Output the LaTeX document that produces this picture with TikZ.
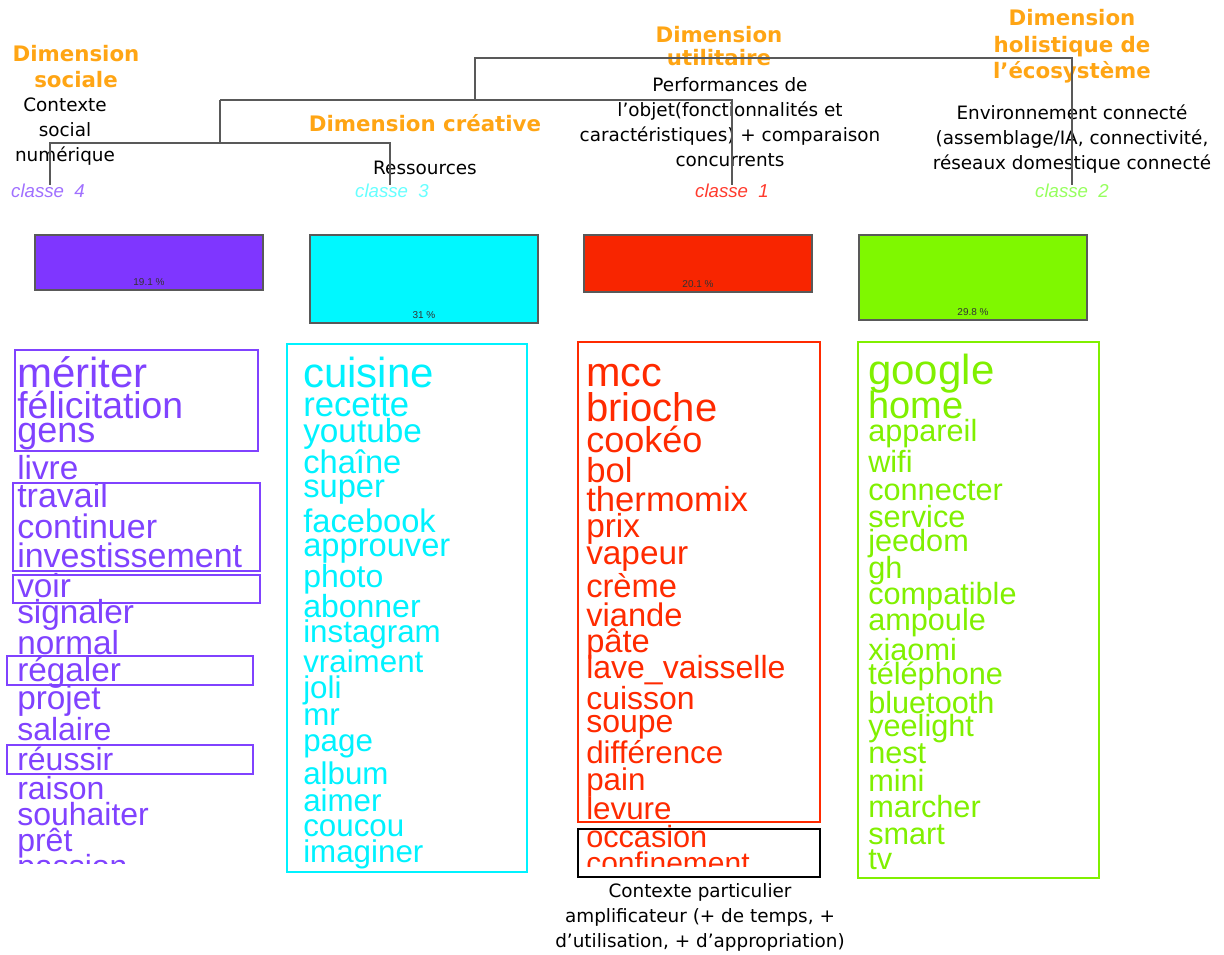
\documentclass[tikz,border=0pt]{standalone}
\usepackage{fontspec}
\setmainfont{Liberation Sans}
\newfontfamily\notefont{DejaVu Sans}
\definecolor{dimorange}{HTML}{FFA514}
\definecolor{wpurple}{HTML}{8042FF}
\definecolor{wcyan}{HTML}{00F2FF}
\definecolor{wred}{HTML}{FF2A00}
\definecolor{wgreen}{HTML}{80F000}
\definecolor{bpurple}{HTML}{7F36FF}
\definecolor{bcyan}{HTML}{00F8FF}
\definecolor{bred}{HTML}{F82500}
\definecolor{bgreen}{HTML}{7FF800}
\definecolor{cpurple}{HTML}{A070FF}
\definecolor{ccyan}{HTML}{66FFFF}
\definecolor{cred}{HTML}{FF3B2E}
\definecolor{cgreen}{HTML}{96FF5E}
\begin{document}
\begin{tikzpicture}[x=0.75pt,y=0.75pt,yscale=-1,xscale=1,
  dimtext/.style={text=dimorange,font=\notefont\bfseries\fontsize{16}{20}\selectfont,align=center,inner sep=0pt},
  ctxtext/.style={font=\notefont\fontsize{13.8}{18.75}\selectfont,align=center,inner sep=0pt},
  classlab/.style={font=\itshape\fontsize{14}{14}\selectfont,inner sep=0pt},
  dendro/.style={draw=black!65,line width=0.9pt},
  bar/.style={draw=black!65,line width=0.8pt},
  pct/.style={font=\fontsize{7.5}{7.5}\selectfont,text=black!80,inner sep=0pt},
  word/.style={anchor=mid west,inner sep=0pt},
  wordbox/.style={line width=1pt}]
\useasboundingbox (0,0) rectangle (1224,955);

%Text: dimensions
\node[dimtext] (dsoc) at (76,66.5) {Dimension\\sociale};
\node[dimtext] (dcre) at (425,123) {Dimension créative};
\node[dimtext,font=\notefont\bfseries\fontsize{16}{17.3}\selectfont] (duti) at (719,46.5) {Dimension\\utilitaire};
\node[dimtext] (dhol) at (1072,46.5) {Dimension\\holistique de\\l’écosystème};

%Text: contexts
\node[ctxtext] (tsoc) at (65,132) {Contexte\\social\\numérique};
\node[ctxtext] (tres) at (425,168) {Ressources};
\node[ctxtext] (tuti) at (730,122.5) {Performances de\\l’objet(fonctionnalités et\\caractéristiques) + comparaison\\concurrents};
\node[ctxtext] (thol) at (1072,139.5) {Environnement connecté\\(assemblage/IA, connectivité,\\réseaux domestique connecté};
\node[ctxtext] (tamp) at (700,917.5) {Contexte particulier\\amplificateur (+ de temps, +\\d’utilisation, + d’appropriation)};

%Text: classes
\node[classlab,text=cpurple] (k4) at (48,190.5) {classe\ \ 4};
\node[classlab,text=ccyan] (k3) at (392,190.5) {classe\ \ 3};
\node[classlab,text=cred] (k1) at (732,190.5) {classe\ \ 1};
\node[classlab,text=cgreen] (k2) at (1072,190.5) {classe\ \ 2};

%Dendrogram
\coordinate (c4) at (50,185);
\coordinate (c3) at (390,185);
\coordinate (c1) at (732,185);
\coordinate (c2) at (1072,185);
\draw[dendro] (c4) -- (50,143) -- (390,143) -- (c3);
\draw[dendro] (220,143) -- (220,100);
\draw[dendro] (220,100) -- (732,100) -- (c1);
\draw[dendro] (475,100) -- (475,58) -- (1072,58) -- (c2);

%Shape: Rectangle bars
\draw[bar,fill=bpurple] (35,235) rectangle (263,290);
\node[pct] (p4) at (149,282) {19.1 \%};
\draw[bar,fill=bcyan] (310,235) rectangle (538,323);
\node[pct] (p3) at (424,315.5) {31 \%};
\draw[bar,fill=bred] (584,235) rectangle (812,292);
\node[pct] (p1) at (698,284) {20.1 \%};
\draw[bar,fill=bgreen] (859,235) rectangle (1087,320);
\node[pct] (p2) at (973,312) {29.8 \%};

%Words classe 4
\begin{scope}
\clip (0,330) rectangle (280,863);
\foreach \w/\y/\s [count=\i] in {mériter/373/31.5,félicitation/405/28,gens/430/27,livre/467/25,travail/495/25.5,continuer/526/25.5,investissement/555/25.5,voir/585/25,signaler/611/25,normal/642/25,régaler/669/25,projet/697/25,salaire/729/24,réussir/759/24,raison/788/24,souhaiter/814/24,prêt/840/24,passion/866/24}
  \node[word,text=wpurple,font=\fontsize{\s}{\s}\selectfont] (wp\i) at (17,{\y+0.35*\s}) {\w};
\end{scope}
\draw[wordbox,draw=wpurple] (15,350) rectangle (258,451);
\draw[wordbox,draw=wpurple] (13,483) rectangle (260,571);
\draw[wordbox,draw=wpurple] (13,575) rectangle (260,603);
\draw[wordbox,draw=wpurple] (7,656) rectangle (253,685);
\draw[wordbox,draw=wpurple] (7,745) rectangle (253,774);

%Words classe 3
\foreach \w/\y/\s [count=\i] in {cuisine/373/31.5,recette/404/26,youtube/430/25,chaîne/461/24.5,super/485/24.5,facebook/520/24.5,approuver/544/24.5,photo/576/24,abonner/606/24,instagram/631/23.5,vraiment/661/23.5,joli/687/23.5,mr/714/23.5,page/740/23.5,album/773/23.5,aimer/800/23.5,coucou/825/23.5,imaginer/851/23.5}
  \node[word,text=wcyan,font=\fontsize{\s}{\s}\selectfont] (wc\i) at (303,{\y+0.35*\s}) {\w};
\draw[wordbox,draw=wcyan] (287,344) rectangle (527,872);

%Words classe 1
\begin{scope}
\clip (570,330) rectangle (830,866);
\foreach \w/\y/\s [count=\i] in {mcc/372/31,brioche/407/30,cookéo/440/27,bol/470/26,thermomix/499/26,prix/525/25,vapeur/552/25,crème/585/24.5,viande/614/24.5,pâte/640/24.5,lave\_vaisselle/667/24,cuisson/698/24,soupe/721/24,différence/752/23.5,pain/779/23.5,levure/808/23.5,occasion/836/23,confinement/862/22.5}
  \node[word,text=wred,font=\fontsize{\s}{\s}\selectfont] (wr\i) at (586,{\y+0.35*\s}) {\w};
\end{scope}
\draw[wordbox,draw=wred] (578,342) rectangle (820,822);
\draw[wordbox,draw=black] (578,829) rectangle (820,877);

%Words classe 2
\foreach \w/\y/\s [count=\i] in {google/370/31.5,home/405/28.5,appareil/430/23,wifi/461/23,connecter/489/23,service/516/23,jeedom/540/23,gh/567/23,compatible/593/23,ampoule/619/23,xiaomi/649/23,téléphone/673/23,bluetooth/702/23,yeelight/725/23,nest/752/23,mini/780/23,marcher/806/23,smart/833/23,tv/858/23}
  \node[word,text=wgreen,font=\fontsize{\s}{\s}\selectfont] (wg\i) at (868,{\y+0.35*\s}) {\w};
\draw[wordbox,draw=wgreen] (858,342) rectangle (1099,878);

\end{tikzpicture}
\end{document}
